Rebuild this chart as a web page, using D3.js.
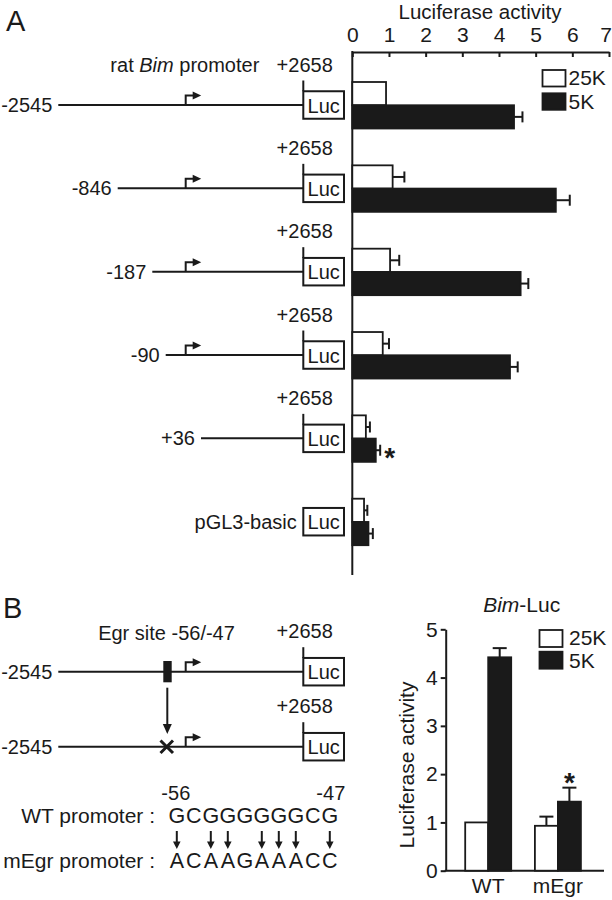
<!DOCTYPE html>
<html><head><meta charset="utf-8">
<script src="https://cdn.jsdelivr.net/npm/d3@7"></script>
<style>body{margin:0;background:#fff}svg{display:block}text{font-family:"Liberation Sans",Arial,sans-serif;fill:#1a1a1a}</style>
</head><body>
<script>
// ---------- Data ----------
const constructs = ["-2545", "-846", "-187", "-90", "+36", "pGL3-basic"];
const constructStart = [-2545, -846, -187, -90, 36, null];
const hasTSS = [true, true, true, true, false, false];
const series = ["25K", "5K"];
const val25K = [0.92, 1.10, 1.03, 0.83, 0.37, 0.32];
const err25K = [0, 0.32, 0.25, 0.17, 0.11, 0.09];
const val5K = [4.41, 5.55, 4.59, 4.30, 0.64, 0.44];
const err5K = [0.23, 0.38, 0.21, 0.21, 0.12, 0.12];
const sigA = [false, false, false, false, true, false];
const ticksA = [0, 1, 2, 3, 4, 5, 6, 7];

const groupsB = ["WT", "mEgr"];
const b25K = [1.0, 0.93];
const b25Kerr = [0, 0.19];
const b5K = [4.42, 1.43];
const b5Kerr = [0.19, 0.29];
const sigB = [false, true];
const ticksB = [0, 1, 2, 3, 4, 5];

const wtSeq = "GCGGGGGGCG".split("");
const mutSeq = "ACAAGAAACC".split("");

// ---------- Setup ----------
const W = 612, H = 900, INK = "#1a1a1a";
const svg = d3.select("body").append("svg").attr("width", W).attr("height", H);
const FS = 21;

// ---------- Panel A chart ----------
const xA = d3.scaleLinear().domain([0, 7]).range([352.3, 609]);
const yA = d3.scalePoint().domain(constructs).range([105, 521.7]);
const sub = d3.scaleBand().domain(series).range([-23, 23.5]).padding(0);

const axA = svg.append("g").attr("transform", "translate(0,52)")
  .call(d3.axisTop(xA).tickValues(ticksA).tickFormat(d3.format("d")).tickSizeInner(-5).tickSizeOuter(0).tickPadding(10));
axA.select(".domain").attr("stroke", INK).attr("stroke-width", 2);
axA.selectAll(".tick line").attr("stroke", INK).attr("stroke-width", 2);
axA.selectAll(".tick text").attr("font-size", FS).attr("font-family", "Liberation Sans, Arial").attr("fill", INK)
  .attr("dx", d => d === 7 ? -3.5 : 0);
svg.append("line").attr("x1", xA(0)).attr("x2", xA(0)).attr("y1", 51).attr("y2", 575)
  .attr("stroke", INK).attr("stroke-width", 2);
svg.append("text").attr("x", 480).attr("y", 18.5).attr("text-anchor", "middle").attr("font-size", 20.5).text("Luciferase activity");

const gA = svg.append("g");
constructs.forEach((c, i) => {
  const cy = yA(c);
  const rows = [
    {s: "25K", v: val25K[i], e: err25K[i], fill: "#fff"},
    {s: "5K", v: val5K[i], e: err5K[i], fill: INK}
  ];
  rows.forEach(r => {
    const y0 = cy + sub(r.s), h = sub.bandwidth();
    if (r.e > 0) {
      gA.append("line").attr("x1", xA(r.v)).attr("x2", xA(r.v + r.e)).attr("y1", y0 + h / 2).attr("y2", y0 + h / 2).attr("stroke", INK).attr("stroke-width", 2);
      gA.append("line").attr("x1", xA(r.v + r.e)).attr("x2", xA(r.v + r.e)).attr("y1", y0 + h / 2 - 5.5).attr("y2", y0 + h / 2 + 5.5).attr("stroke", INK).attr("stroke-width", 2);
    }
    gA.append("rect").attr("x", xA(0)).attr("y", y0).attr("width", xA(r.v) - xA(0)).attr("height", h)
      .attr("fill", r.fill).attr("stroke", INK).attr("stroke-width", 1.8);
  });
  if (sigA[i]) {
    gA.append("text").attr("x", xA(val5K[i] + err5K[i]) + 9.5).attr("y", cy + sub("5K") + sub.bandwidth() / 2 + 16.5)
      .attr("text-anchor", "middle").attr("font-size", 28).attr("font-weight", "bold").text("*");
  }
});

// legend A
const legA = svg.append("g");
[["25K", "#fff", 70, 85], ["5K", INK, 93.3, 109]].forEach(([t, f, y, by]) => {
  legA.append("rect").attr("x", 542.5).attr("y", y).attr("width", 23).attr("height", 16.5).attr("fill", f).attr("stroke", INK).attr("stroke-width", 1.8);
  legA.append("text").attr("x", 568.5).attr("y", by).attr("font-size", FS).text(t);
});

// ---------- Diagram helpers ----------
const pos = d3.scaleLinear().domain([-2545, -846, -187, -90, 36, 2658]).range([58.3, 117.7, 152.3, 165.7, 201, 303.3]);
const tssX = 185.7;
const LUCX = 303.3, LUCW = 40.7, LUCH = 27.5;

function tss(g, y) {
  g.append("path").attr("d", `M${tssX},${y}V${y - 9.5}H${tssX + 8}`).attr("fill", "none").attr("stroke", INK).attr("stroke-width", 2);
  g.append("path").attr("d", `M${tssX + 7},${y - 13.5}L${tssX + 15.5},${y - 9.5}L${tssX + 7},${y - 5.5}Z`).attr("fill", INK);
}
function luc(g, y, withTick) {
  if (withTick) {
    g.append("line").attr("x1", LUCX).attr("x2", LUCX).attr("y1", y - 24.5).attr("y2", y - LUCH / 2).attr("stroke", INK).attr("stroke-width", 2);
    g.append("text").attr("x", 304.7).attr("y", y - 33.5).attr("text-anchor", "middle").attr("font-size", 20).text("+2658");
  }
  g.append("rect").attr("x", LUCX).attr("y", y - LUCH / 2).attr("width", LUCW).attr("height", LUCH).attr("fill", "#fff").attr("stroke", INK).attr("stroke-width", 2);
  g.append("text").attr("x", LUCX + LUCW / 2).attr("y", y + 7.5).attr("text-anchor", "middle").attr("font-size", 20).text("Luc");
}

// ---------- Panel A diagram ----------
const dA = svg.append("g");
dA.append("text").attr("x", 6).attr("y", 30.5).attr("font-size", 29).text("A");
const t1 = dA.append("text").attr("x", 259.3).attr("y", 71.7).attr("text-anchor", "end").attr("font-size", 20);
t1.append("tspan").text("rat ");
t1.append("tspan").attr("font-style", "italic").text("Bim");
t1.append("tspan").text(" promoter");

constructs.forEach((c, i) => {
  const cy = yA(c);
  if (constructStart[i] !== null) {
    const x0 = pos(constructStart[i]);
    dA.append("line").attr("x1", x0).attr("x2", LUCX).attr("y1", cy).attr("y2", cy).attr("stroke", INK).attr("stroke-width", 2);
    dA.append("text").attr("x", x0 - 6).attr("y", cy + 7).attr("text-anchor", "end").attr("font-size", 20).text(c);
    if (hasTSS[i]) tss(dA, cy);
    luc(dA, cy, true);
  } else {
    dA.append("text").attr("x", LUCX - 6.5).attr("y", cy + 7).attr("text-anchor", "end").attr("font-size", 20).text(c);
    luc(dA, cy, false);
  }
});

// ---------- Panel B diagram ----------
const dB = svg.append("g");
dB.append("text").attr("x", 3).attr("y", 618).attr("font-size", 29).text("B");
dB.append("text").attr("x", 166.5).attr("y", 640).attr("text-anchor", "middle").attr("font-size", 20).text("Egr site -56/-47");
const rB = [671.7, 746.7];
rB.forEach((cy, k) => {
  const x0 = pos(-2545);
  dB.append("line").attr("x1", x0).attr("x2", LUCX).attr("y1", cy).attr("y2", cy).attr("stroke", INK).attr("stroke-width", 2);
  dB.append("text").attr("x", x0 - 6).attr("y", cy + 7).attr("text-anchor", "end").attr("font-size", 20).text("-2545");
  tss(dB, cy);
  luc(dB, cy, true);
});
dB.append("rect").attr("x", 163.3).attr("y", 661).attr("width", 8.4).attr("height", 21.3).attr("fill", INK);
dB.append("line").attr("x1", 167.3).attr("x2", 167.3).attr("y1", 687.7).attr("y2", 726).attr("stroke", INK).attr("stroke-width", 2);
dB.append("path").attr("d", "M162.8,724L171.8,724L167.3,734Z").attr("fill", INK);
dB.append("path").attr("d", "M160.5,740.5L173,753M173,740.5L160.5,753").attr("stroke", INK).attr("stroke-width", 3).attr("fill", "none");

// sequences
const seqX = d3.scalePoint().domain(d3.range(wtSeq.length)).range([176.8, 329.8]);
dB.append("text").attr("x", seqX(0) - 1).attr("y", 800).attr("text-anchor", "middle").attr("font-size", 20).text("-56");
dB.append("text").attr("x", seqX(9) + 1).attr("y", 800).attr("text-anchor", "middle").attr("font-size", 20).text("-47");
dB.append("text").attr("x", 155).attr("y", 822.7).attr("text-anchor", "end").attr("font-size", 21).text("WT promoter :");
dB.append("text").attr("x", 155).attr("y", 868.3).attr("text-anchor", "end").attr("font-size", 21).text("mEgr promoter :");
wtSeq.forEach((ch, i) => {
  dB.append("text").attr("x", seqX(i)).attr("y", 822.7).attr("text-anchor", "middle").attr("font-size", 21.5).text(ch);
  dB.append("text").attr("x", seqX(i)).attr("y", 868.3).attr("text-anchor", "middle").attr("font-size", 21.5).text(mutSeq[i]);
  if (ch !== mutSeq[i]) {
    const ax = seqX(i);
    dB.append("line").attr("x1", ax).attr("x2", ax).attr("y1", 831).attr("y2", 843).attr("stroke", INK).attr("stroke-width", 2);
    dB.append("path").attr("d", `M${ax - 3.8},${841.5}L${ax + 3.8},${841.5}L${ax},${849}Z`).attr("fill", INK);
  }
});

// ---------- Panel B chart ----------
const yB = d3.scaleLinear().domain([0, 5]).range([870.7, 629.3]);
const xB = d3.scalePoint().domain(groupsB).range([488.2, 557.9]);
const BW = 23;
const axB = svg.append("g").attr("transform", "translate(445.7,0)")
  .call(d3.axisLeft(yB).tickValues(ticksB).tickFormat(d3.format("d")).tickSizeInner(5).tickSizeOuter(0).tickPadding(3));
axB.select(".domain").attr("stroke", INK).attr("stroke-width", 2);
axB.selectAll(".tick line").attr("stroke", INK).attr("stroke-width", 2);
axB.selectAll(".tick text").attr("font-size", FS).attr("font-family", "Liberation Sans, Arial").attr("fill", INK);
svg.append("line").attr("x1", 444.7).attr("x2", 604).attr("y1", yB(0)).attr("y2", yB(0)).attr("stroke", INK).attr("stroke-width", 2);
groupsB.forEach(g => {
  svg.append("text").attr("x", xB(g)).attr("y", 893.3).attr("text-anchor", "middle").attr("font-size", FS).text(g);
});
svg.append("text").attr("transform", "translate(414,765) rotate(-90)").attr("text-anchor", "middle").attr("font-size", FS).text("Luciferase activity");
const tB = svg.append("text").attr("x", 521.7).attr("y", 611.7).attr("text-anchor", "middle").attr("font-size", FS);
tB.append("tspan").attr("font-style", "italic").text("Bim");
tB.append("tspan").text("-Luc");

const gB = svg.append("g");
groupsB.forEach((g, i) => {
  const c = xB(g);
  [{v: b25K[i], e: b25Kerr[i], x: c - BW, f: "#fff"}, {v: b5K[i], e: b5Kerr[i], x: c, f: INK}].forEach(b => {
    if (b.e > 0) {
      gB.append("line").attr("x1", b.x + BW / 2).attr("x2", b.x + BW / 2).attr("y1", yB(b.v)).attr("y2", yB(b.v + b.e)).attr("stroke", INK).attr("stroke-width", 2);
      gB.append("line").attr("x1", b.x + BW / 2 - 7).attr("x2", b.x + BW / 2 + 7).attr("y1", yB(b.v + b.e)).attr("y2", yB(b.v + b.e)).attr("stroke", INK).attr("stroke-width", 2);
    }
    gB.append("rect").attr("x", b.x).attr("y", yB(b.v)).attr("width", BW).attr("height", yB(0) - yB(b.v))
      .attr("fill", b.f).attr("stroke", INK).attr("stroke-width", 1.8);
  });
  if (sigB[i]) {
    gB.append("text").attr("x", c + BW / 2).attr("y", yB(b5K[i] + b5Kerr[i]) + 4).attr("text-anchor", "middle")
      .attr("font-size", 28).attr("font-weight", "bold").text("*");
  }
});
// legend B
[["25K", "#fff", 630, 645], ["5K", INK, 651.7, 668]].forEach(([t, f, y, by]) => {
  svg.append("rect").attr("x", 539.5).attr("y", y).attr("width", 23).attr("height", 17).attr("fill", f).attr("stroke", INK).attr("stroke-width", 1.8);
  svg.append("text").attr("x", 569).attr("y", by).attr("font-size", FS).text(t);
});
</script>
</body></html>
